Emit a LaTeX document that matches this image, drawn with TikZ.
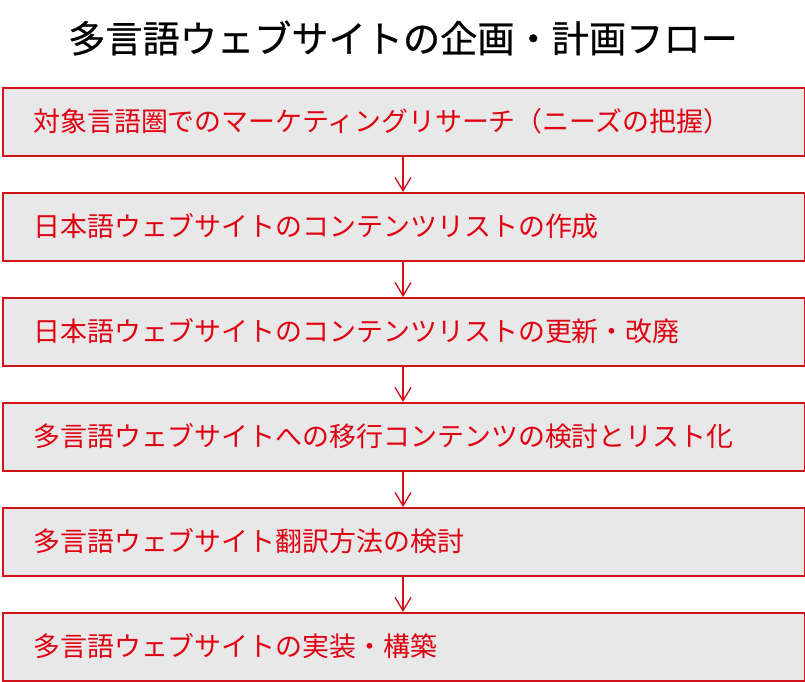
\documentclass[tikz,border=0pt]{standalone}
\usepackage{fontspec}
\setmainfont{Noto Sans CJK JP}
\newfontfamily\titlefont[FakeBold=0.6]{Noto Sans CJK JP}
\usetikzlibrary{arrows.meta}
\definecolor{boxred}{HTML}{D0121B}
\definecolor{txtred}{HTML}{E00012}
\definecolor{boxfill}{HTML}{E9E8E8}
\tikzset{
  stepbox/.style={draw=boxred, line width=1.8pt, fill=boxfill, minimum width=602pt, minimum height=51pt, inner sep=0pt, anchor=north west},
  steplabel/.style={text=txtred, font=\fontsize{20.2pt}{23pt}\selectfont, anchor=west, inner sep=0pt},
  flowarrow/.style={draw=boxred, line width=1pt, -{Straight Barb[length=10pt, width=12pt, line width=1pt]}},
  titletext/.style={font=\titlefont\fontsize{27.9pt}{32pt}\selectfont, text=black, inner sep=0pt}
}
\begin{document}
\begin{tikzpicture}[x=0.75pt, y=-0.75pt]
\useasboundingbox[fill=white] (0,0) rectangle (805,681);
\node[titletext] (title) at (403,38) {多言語ウェブサイトの企画・計画フロー};
\foreach \i/\t/\txt in {1/87/対象言語圏でのマーケティングリサーチ（ニーズの把握）,
                        2/192/日本語ウェブサイトのコンテンツリストの作成,
                        3/297/日本語ウェブサイトのコンテンツリストの更新・改廃,
                        4/402/多言語ウェブサイトへの移行コンテンツの検討とリスト化,
                        5/507/多言語ウェブサイト翻訳方法の検討,
                        6/612/多言語ウェブサイトの実装・構築}{
  \node[stepbox] (b\i) at (1.8,\t) {};
  \node[steplabel] (l\i) at (33,\t+34.5) {\txt};
}
\foreach \a/\b in {1/2,2/3,3/4,4/5,5/6}{
  \draw[flowarrow] (b\a.south -| 403,0) -- (b\b.north -| 403,0);
}
\end{tikzpicture}
\end{document}
